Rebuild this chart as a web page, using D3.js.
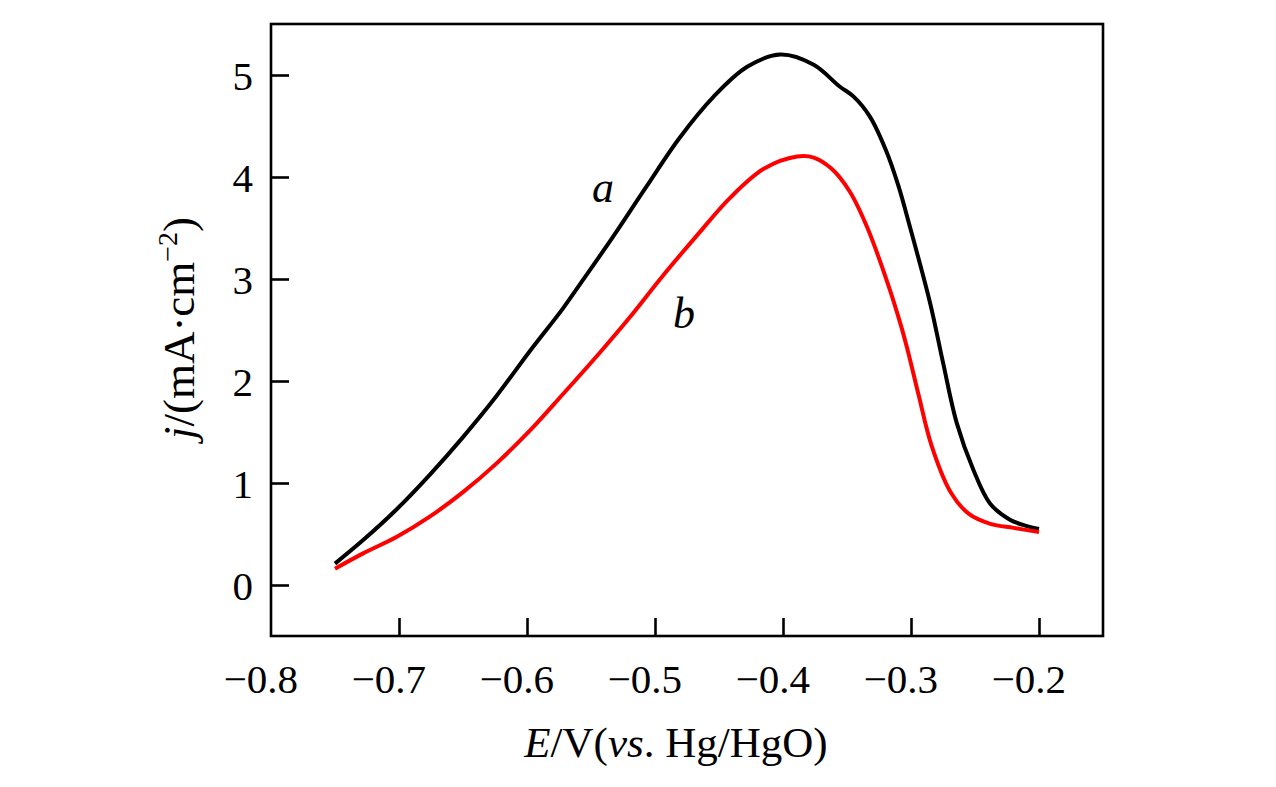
<!DOCTYPE html>
<html>
<head>
<meta charset="utf-8">
<script src="https://cdn.jsdelivr.net/npm/d3@7"></script>
<style>
  body { margin: 0; background: #fff; }
  svg text { font-family: "Liberation Serif", "Times New Roman", serif; fill: #000; }
</style>
</head>
<body>
<svg id="chart" width="1276" height="787"></svg>
<script>
// curve a (black)
const potentialA = [-0.75, -0.728, -0.702, -0.676, -0.650, -0.624, -0.598, -0.572, -0.558, -0.533, -0.507,
  -0.481, -0.454, -0.428, -0.402, -0.376, -0.356, -0.345, -0.332, -0.3195, -0.310, -0.3008, -0.285,
  -0.2748, -0.2643, -0.2513, -0.2383, -0.2227, -0.21, -0.20];
const currentA = [0.21, 0.44, 0.74, 1.08, 1.45, 1.85, 2.29, 2.71, 2.96, 3.41, 3.90,
  4.38, 4.79, 5.08, 5.20, 5.10, 4.89, 4.79, 4.59, 4.26, 3.92, 3.51, 2.76,
  2.17, 1.59, 1.13, 0.80, 0.64, 0.58, 0.55];

// curve b (red)
const potentialB = [-0.75, -0.728, -0.702, -0.676, -0.650, -0.624, -0.598, -0.572, -0.543, -0.520, -0.494,
  -0.467, -0.441, -0.415, -0.389, -0.376, -0.362, -0.348, -0.334, -0.318, -0.308, -0.303, -0.294,
  -0.284, -0.269, -0.255, -0.238, -0.22, -0.20];
const currentB = [0.16, 0.31, 0.47, 0.67, 0.91, 1.19, 1.51, 1.87, 2.28, 2.62, 3.03,
  3.43, 3.80, 4.08, 4.20, 4.19, 4.08, 3.86, 3.50, 2.95, 2.55, 2.32, 1.86,
  1.37, 0.91, 0.70, 0.60, 0.56, 0.52];

const xTicks = [-0.8, -0.7, -0.6, -0.5, -0.4, -0.3, -0.2];
const yTicks = [0, 1, 2, 3, 4, 5];

const svg = d3.select('#chart');
const plotLeft = 271, plotRight = 1103, plotTop = 24, plotBottom = 636;

const x = d3.scaleLinear().domain([-0.8, -0.15]).range([plotLeft, plotRight]);
const y = d3.scaleLinear().domain([-0.5, 5.5]).range([plotBottom, plotTop]);

// frame
svg.append('rect')
  .attr('x', plotLeft).attr('y', plotTop)
  .attr('width', plotRight - plotLeft).attr('height', plotBottom - plotTop)
  .attr('fill', 'none').attr('stroke', '#000').attr('stroke-width', 2.6);

// x axis, ticks inside; the number part sits centred on the tick, the minus hangs left
const xAxis = d3.axisBottom(x).tickValues(xTicks).tickSize(-18).tickSizeOuter(0)
  .tickFormat(d => '\u2212' + Math.abs(d).toFixed(1));
const gx = svg.append('g').attr('transform', `translate(0,${plotBottom})`).call(xAxis);
gx.select('.domain').remove();
gx.selectAll('.tick line').attr('stroke', '#000').attr('stroke-width', 2.6)
  .filter(d => d === -0.8).remove();
gx.selectAll('.tick text')
  .attr('font-size', 41).attr('y', 57).attr('dy', 0).attr('dx', '-0.26em');

// y axis, ticks inside
const yAxis = d3.axisLeft(y).tickValues(yTicks).tickSize(-18).tickSizeOuter(0).tickFormat(d3.format('d'));
const gy = svg.append('g').attr('transform', `translate(${plotLeft},0)`).call(yAxis);
gy.select('.domain').remove();
gy.selectAll('.tick line').attr('stroke', '#000').attr('stroke-width', 2.6);
gy.selectAll('.tick text').attr('font-size', 41).attr('x', -18).attr('dy', '0.35em');

// curves
const line = d3.line()
  .x(d => x(d[0]))
  .y(d => y(d[1]))
  .curve(d3.curveCatmullRom.alpha(0.5));

svg.append('path')
  .datum(d3.zip(potentialA, currentA))
  .attr('d', line).attr('fill', 'none')
  .attr('stroke', '#000').attr('stroke-width', 4);

svg.append('path')
  .datum(d3.zip(potentialB, currentB))
  .attr('d', line).attr('fill', 'none')
  .attr('stroke', '#ff0000').attr('stroke-width', 4);

// curve labels
svg.append('text').attr('x', 603).attr('y', 202).attr('text-anchor', 'middle')
  .attr('font-size', 44).attr('font-style', 'italic').text('a');
svg.append('text').attr('x', 684).attr('y', 328).attr('text-anchor', 'middle')
  .attr('font-size', 44).attr('font-style', 'italic').text('b');

// x title
const xt = svg.append('text').attr('x', 676).attr('y', 757)
  .attr('text-anchor', 'middle').attr('font-size', 43);
xt.append('tspan').attr('font-style', 'italic').text('E');
xt.append('tspan').text('/V(');
xt.append('tspan').attr('font-style', 'italic').text('vs');
xt.append('tspan').text('. Hg/HgO)');

// y title
const yt = svg.append('text')
  .attr('transform', 'translate(194,328) rotate(-90)')
  .attr('text-anchor', 'middle').attr('font-size', 45);
yt.append('tspan').attr('font-style', 'italic').text('j');
yt.append('tspan').text('/(mA\u00b7cm');
yt.append('tspan').attr('font-size', 28).attr('dy', -17).text('\u22122');
yt.append('tspan').attr('dy', 17).text(')');
</script>
</body>
</html>
